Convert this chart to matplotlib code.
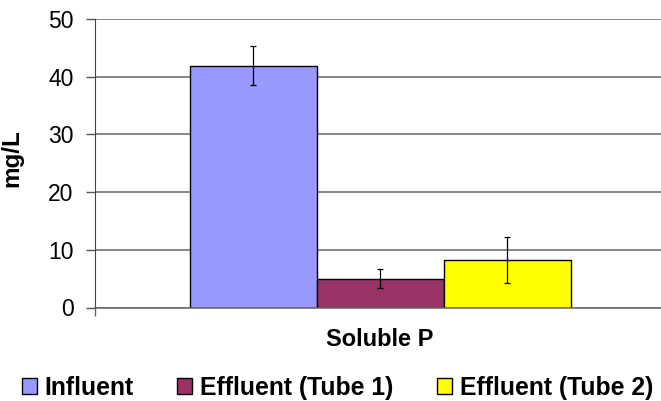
import matplotlib.pyplot as plt

# --- dados ---
categoria = ["Soluble P"]
series = ["Influent", "Effluent (Tube 1)", "Effluent (Tube 2)"]
valores = [41.9, 5.0, 8.2]
erros_sup = [3.4, 1.7, 4.1]
erros_inf = [3.4, 1.7, 4.0]
cores = ["#9999FF", "#993366", "#FFFF00"]

plt.rcParams["font.family"] = ["Liberation Sans", "DejaVu Sans"]

W, H = 661, 401
fig = plt.figure(figsize=(W / 100, H / 100), dpi=100)
# eixo de 95 a 661 px na horizontal, 19 a 307.5 px na vertical
ax = fig.add_axes([95 / W, 1 - 307.5 / H, (661 - 95) / W, 288.5 / H])

escala = 566.0          # px por unidade de dado no eixo x
largura = 127 / escala
for i, (nome, v) in enumerate(zip(series, valores)):
    x = (i - 1) * largura
    ax.bar(x, v, width=largura, color=cores[i], edgecolor="black",
           linewidth=1.0, label=nome, zorder=2)
    ax.errorbar(x, v, yerr=[[erros_inf[i]], [erros_sup[i]]], fmt="none",
                ecolor="black", elinewidth=0.9, capsize=2.3, capthick=0.9, zorder=3)

# --- eixos ---
x0 = (95 - 380) / escala
x1 = (661 - 380) / escala
ax.set_xlim(x0, x1)
ax.set_ylim(0, 50)
ax.set_yticks(range(0, 51, 10))
ax.yaxis.grid(True, color="#666666", linewidth=1.1, zorder=0)
ax.set_axisbelow(True)
ax.set_xticks([0])
ax.set_xticklabels(categoria, fontsize=17, fontweight="bold")
ax.tick_params(axis="x", length=0, pad=15)
ax.set_xticks([x0], minor=True)
ax.tick_params(axis="x", which="minor", length=6, width=1, color="#666666")
ax.tick_params(axis="y", labelsize=16.5, length=6.5, width=1, color="#555555", pad=9)
ax.set_ylabel("mg/L", fontsize=17.5, fontweight="bold")
ax.yaxis.set_label_coords((23 - 95) / 566, (307.5 - 158) / 288.5)

for s in ["top", "right"]:
    ax.spines[s].set_visible(False)
ax.spines["left"].set_color("#444444")
ax.spines["bottom"].set_color("#666666")
ax.spines["bottom"].set_linewidth(1.1)

# --- legenda ---
fig.legend(loc="center", bbox_to_anchor=(337.5 / W, 1 - 388 / H), ncol=3,
           frameon=False, prop={"weight": "bold", "size": 17.8},
           handlelength=0.61, handleheight=0.61, handletextpad=0.32,
           columnspacing=1.75, borderaxespad=0, borderpad=0)

fig.savefig("out.png", dpi=100)
